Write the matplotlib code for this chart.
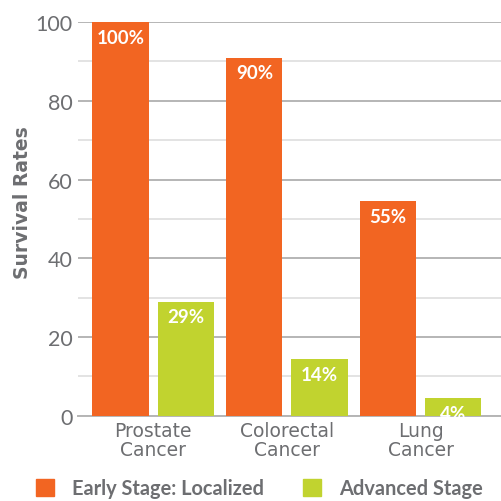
import numpy as np
import matplotlib.pyplot as plt
from matplotlib.patches import Patch

# ---------------------------
# Data
# ---------------------------
cancers = ["Prostate\nCancer", "Colorectal\nCancer", "Lung\nCancer"]
early_stage = [100, 91, 54.5]
advanced_stage = [29, 14.4, 4.5]
early_labels = ["100%", "90%", "55%"]
advanced_labels = ["29%", "14%", "4%"]
series_names = ["Early Stage: Localized", "Advanced Stage"]

ORANGE = "#F26522"
GREEN = "#C1D32F"
GRAY = "#6D6E71"

plt.rcParams["font.family"] = ["Lato", "DejaVu Sans"]

# ---------------------------
# Figure
# ---------------------------
fig = plt.figure(figsize=(5.01, 5.02), dpi=100)
ax = fig.add_axes([0.156, 0.170, 0.844, 0.784])

x = np.arange(len(cancers))
width = 0.42
off = 0.243

b1 = ax.bar(x - off, early_stage, width, color=ORANGE, zorder=3)
b2 = ax.bar(x + off, advanced_stage, width, color=GREEN, zorder=3)

ax.bar_label(b1, labels=early_labels, padding=-17, color="white",
             fontsize=13.5, fontweight="bold")
ax.bar_label(b2, labels=advanced_labels, padding=-17, color="white",
             fontsize=13.5, fontweight="bold")

# grid: darker every 20, lighter every 10
ax.set_ylim(0, 100)
ax.set_xlim(-0.56, 2.6)
ax.set_yticks(np.arange(0, 101, 20))
ax.set_yticks(np.arange(10, 100, 20), minor=True)
ax.grid(axis="y", which="major", color="#B5B5B5", linewidth=1.4, zorder=0)
ax.grid(axis="y", which="minor", color="#E3E3E3", linewidth=1.4, zorder=0)
ax.tick_params(axis="y", which="both", length=0, pad=4, labelsize=15.5,
               labelcolor=GRAY)
ax.tick_params(axis="x", length=0, pad=4)

ax.set_xticks(x)
ax.set_xticklabels(cancers, fontsize=13.5, color=GRAY, family="DejaVu Sans",
                   linespacing=1.0)

for side in ["top", "right", "left"]:
    ax.spines[side].set_visible(False)
ax.spines["bottom"].set_color("#B5B5B5")
ax.spines["bottom"].set_linewidth(1.4)

ax.set_ylabel("Survival Rates", fontsize=13.5, fontweight="bold", color=GRAY,
              family="DejaVu Sans")
ax.yaxis.set_label_coords(-0.11, 0.545)

handles = [Patch(color=ORANGE), Patch(color=GREEN)]
leg = fig.legend(handles, series_names, loc="center left",
                 bbox_to_anchor=(0.072, 0.025), ncol=2, frameon=False,
                 prop={"size": 14.4, "weight": "bold"},
                 handlelength=0.9, handleheight=0.9,
                 handletextpad=0.9, columnspacing=1.95, borderpad=0,
                 borderaxespad=0)
for t in leg.get_texts():
    t.set_color(GRAY)

plt.savefig("out.png", dpi=100)
